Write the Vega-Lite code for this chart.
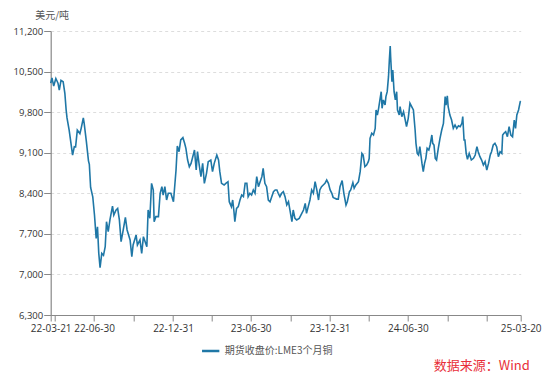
{
  "$schema": "https://vega.github.io/schema/vega-lite/v6.json",
  "width": 470,
  "height": 284,
  "autosize": {"type": "none"},
  "padding": {"left": 50.7, "top": 31, "right": 29.3, "bottom": 67},
  "background": "white",
  "config": {"font": "Noto Sans CJK SC", "view": {"stroke": null}},
  "title": {"text": "数据来源：Wind", "orient": "bottom", "anchor": "end", "frame": "group", "color": "#e8303a", "fontSize": 13, "fontWeight": "normal", "offset": 4, "dx": 9},
  "data": {"values": [
    {"d":"2022-03-21","v":10300},{"d":"2022-03-24","v":10390},{"d":"2022-03-28","v":10250},{"d":"2022-04-02","v":10380},{"d":"2022-04-07","v":10300},{"d":"2022-04-10","v":10180},{"d":"2022-04-14","v":10350},{"d":"2022-04-19","v":10325},{"d":"2022-04-23","v":10125},{"d":"2022-04-26","v":9837},{"d":"2022-04-28","v":9700},{"d":"2022-05-03","v":9490},{"d":"2022-05-11","v":9060},{"d":"2022-05-15","v":9204},{"d":"2022-05-18","v":9200},{"d":"2022-05-22","v":9490},{"d":"2022-05-28","v":9430},{"d":"2022-05-31","v":9520},{"d":"2022-06-05","v":9700},{"d":"2022-06-07","v":9607},{"d":"2022-06-12","v":9300},{"d":"2022-06-17","v":8960},{"d":"2022-06-19","v":8900},{"d":"2022-06-22","v":8500},{"d":"2022-06-27","v":8340},{"d":"2022-07-01","v":8025},{"d":"2022-07-05","v":7623},{"d":"2022-07-08","v":7823},{"d":"2022-07-11","v":7364},{"d":"2022-07-14","v":7117},{"d":"2022-07-18","v":7364},{"d":"2022-07-22","v":7330},{"d":"2022-07-26","v":7478},{"d":"2022-07-29","v":7910},{"d":"2022-08-02","v":7737},{"d":"2022-08-06","v":7940},{"d":"2022-08-12","v":8180},{"d":"2022-08-15","v":8025},{"d":"2022-08-20","v":8110},{"d":"2022-08-24","v":8140},{"d":"2022-08-28","v":7940},{"d":"2022-09-01","v":7565},{"d":"2022-09-06","v":7767},{"d":"2022-09-11","v":7985},{"d":"2022-09-15","v":7767},{"d":"2022-09-22","v":7594},{"d":"2022-09-26","v":7306},{"d":"2022-09-29","v":7508},{"d":"2022-10-06","v":7680},{"d":"2022-10-09","v":7508},{"d":"2022-10-15","v":7594},{"d":"2022-10-19","v":7364},{"d":"2022-10-23","v":7652},{"d":"2022-10-27","v":7565},{"d":"2022-10-31","v":7478},{"d":"2022-11-03","v":8111},{"d":"2022-11-07","v":7968},{"d":"2022-11-11","v":8571},{"d":"2022-11-15","v":8456},{"d":"2022-11-17","v":7910},{"d":"2022-11-21","v":7997},{"d":"2022-11-27","v":7997},{"d":"2022-12-01","v":8400},{"d":"2022-12-05","v":8514},{"d":"2022-12-08","v":8370},{"d":"2022-12-12","v":8514},{"d":"2022-12-16","v":8284},{"d":"2022-12-20","v":8400},{"d":"2022-12-26","v":8400},{"d":"2023-01-01","v":8255},{"d":"2023-01-07","v":8802},{"d":"2023-01-10","v":9216},{"d":"2023-01-14","v":9118},{"d":"2023-01-18","v":9320},{"d":"2023-01-23","v":9360},{"d":"2023-01-27","v":9262},{"d":"2023-01-30","v":9176},{"d":"2023-02-03","v":8974},{"d":"2023-02-07","v":8859},{"d":"2023-02-11","v":8916},{"d":"2023-02-15","v":9031},{"d":"2023-02-19","v":9147},{"d":"2023-02-23","v":8802},{"d":"2023-02-26","v":9118},{"d":"2023-03-02","v":8888},{"d":"2023-03-06","v":8687},{"d":"2023-03-10","v":8916},{"d":"2023-03-14","v":8572},{"d":"2023-03-19","v":8744},{"d":"2023-03-23","v":8945},{"d":"2023-03-29","v":8974},{"d":"2023-04-02","v":8773},{"d":"2023-04-06","v":8916},{"d":"2023-04-12","v":9060},{"d":"2023-04-16","v":8974},{"d":"2023-04-19","v":8773},{"d":"2023-04-23","v":8572},{"d":"2023-04-29","v":8543},{"d":"2023-05-03","v":8572},{"d":"2023-05-08","v":8600},{"d":"2023-05-11","v":8255},{"d":"2023-05-16","v":8169},{"d":"2023-05-19","v":8284},{"d":"2023-05-22","v":8082},{"d":"2023-05-24","v":7910},{"d":"2023-05-28","v":8140},{"d":"2023-06-01","v":8169},{"d":"2023-06-05","v":8284},{"d":"2023-06-09","v":8370},{"d":"2023-06-13","v":8342},{"d":"2023-06-17","v":8572},{"d":"2023-06-21","v":8572},{"d":"2023-06-24","v":8342},{"d":"2023-06-28","v":8400},{"d":"2023-07-02","v":8370},{"d":"2023-07-06","v":8457},{"d":"2023-07-10","v":8400},{"d":"2023-07-14","v":8687},{"d":"2023-07-18","v":8514},{"d":"2023-07-22","v":8600},{"d":"2023-07-26","v":8687},{"d":"2023-07-29","v":8831},{"d":"2023-08-02","v":8572},{"d":"2023-08-06","v":8514},{"d":"2023-08-10","v":8284},{"d":"2023-08-14","v":8255},{"d":"2023-08-18","v":8342},{"d":"2023-08-22","v":8428},{"d":"2023-08-26","v":8457},{"d":"2023-08-30","v":8457},{"d":"2023-09-02","v":8400},{"d":"2023-09-06","v":8342},{"d":"2023-09-10","v":8400},{"d":"2023-09-14","v":8428},{"d":"2023-09-18","v":8342},{"d":"2023-09-22","v":8198},{"d":"2023-09-26","v":8255},{"d":"2023-09-30","v":8082},{"d":"2023-10-04","v":7910},{"d":"2023-10-07","v":8111},{"d":"2023-10-11","v":7968},{"d":"2023-10-15","v":7940},{"d":"2023-10-21","v":7968},{"d":"2023-10-27","v":8054},{"d":"2023-10-31","v":8111},{"d":"2023-11-04","v":8226},{"d":"2023-11-07","v":8054},{"d":"2023-11-11","v":8169},{"d":"2023-11-15","v":8284},{"d":"2023-11-19","v":8457},{"d":"2023-11-23","v":8400},{"d":"2023-11-27","v":8600},{"d":"2023-12-01","v":8457},{"d":"2023-12-05","v":8284},{"d":"2023-12-08","v":8457},{"d":"2023-12-12","v":8514},{"d":"2023-12-16","v":8543},{"d":"2023-12-20","v":8572},{"d":"2023-12-24","v":8629},{"d":"2023-12-28","v":8572},{"d":"2024-01-01","v":8457},{"d":"2024-01-05","v":8400},{"d":"2024-01-08","v":8330},{"d":"2024-01-12","v":8313},{"d":"2024-01-16","v":8300},{"d":"2024-01-20","v":8300},{"d":"2024-01-24","v":8514},{"d":"2024-01-29","v":8620},{"d":"2024-02-02","v":8400},{"d":"2024-02-07","v":8198},{"d":"2024-02-10","v":8255},{"d":"2024-02-15","v":8428},{"d":"2024-02-18","v":8457},{"d":"2024-02-23","v":8583},{"d":"2024-02-26","v":8486},{"d":"2024-03-01","v":8543},{"d":"2024-03-07","v":8600},{"d":"2024-03-11","v":8773},{"d":"2024-03-15","v":9089},{"d":"2024-03-18","v":9060},{"d":"2024-03-22","v":8859},{"d":"2024-03-26","v":8888},{"d":"2024-03-30","v":8945},{"d":"2024-04-01","v":9000},{"d":"2024-04-03","v":9348},{"d":"2024-04-07","v":9435},{"d":"2024-04-11","v":9406},{"d":"2024-04-15","v":9520},{"d":"2024-04-17","v":9837},{"d":"2024-04-20","v":9750},{"d":"2024-04-23","v":9866},{"d":"2024-04-26","v":10010},{"d":"2024-04-29","v":10153},{"d":"2024-05-01","v":9866},{"d":"2024-05-04","v":10010},{"d":"2024-05-08","v":9923},{"d":"2024-05-10","v":10067},{"d":"2024-05-13","v":10153},{"d":"2024-05-16","v":10412},{"d":"2024-05-18","v":10700},{"d":"2024-05-20","v":10941},{"d":"2024-05-21","v":10757},{"d":"2024-05-24","v":10326},{"d":"2024-05-26","v":10527},{"d":"2024-05-29","v":10153},{"d":"2024-06-01","v":10010},{"d":"2024-06-04","v":10153},{"d":"2024-06-06","v":9837},{"d":"2024-06-10","v":9750},{"d":"2024-06-12","v":9894},{"d":"2024-06-16","v":9722},{"d":"2024-06-20","v":9808},{"d":"2024-06-24","v":9664},{"d":"2024-06-27","v":9549},{"d":"2024-07-01","v":9693},{"d":"2024-07-05","v":9952},{"d":"2024-07-09","v":9894},{"d":"2024-07-13","v":9837},{"d":"2024-07-17","v":9492},{"d":"2024-07-19","v":9262},{"d":"2024-07-22","v":9089},{"d":"2024-07-25","v":9060},{"d":"2024-07-28","v":9204},{"d":"2024-07-31","v":9031},{"d":"2024-08-02","v":8916},{"d":"2024-08-05","v":8773},{"d":"2024-08-08","v":8916},{"d":"2024-08-11","v":9003},{"d":"2024-08-14","v":9176},{"d":"2024-08-18","v":9147},{"d":"2024-08-21","v":9233},{"d":"2024-08-25","v":9406},{"d":"2024-08-27","v":9262},{"d":"2024-08-30","v":9233},{"d":"2024-09-02","v":9003},{"d":"2024-09-05","v":8974},{"d":"2024-09-09","v":9176},{"d":"2024-09-13","v":9348},{"d":"2024-09-17","v":9492},{"d":"2024-09-21","v":9607},{"d":"2024-09-25","v":10067},{"d":"2024-09-27","v":9923},{"d":"2024-09-30","v":10081},{"d":"2024-10-02","v":9894},{"d":"2024-10-06","v":9750},{"d":"2024-10-10","v":9664},{"d":"2024-10-14","v":9520},{"d":"2024-10-18","v":9578},{"d":"2024-10-22","v":9520},{"d":"2024-10-26","v":9564},{"d":"2024-10-30","v":9549},{"d":"2024-11-03","v":9607},{"d":"2024-11-05","v":9722},{"d":"2024-11-08","v":9320},{"d":"2024-11-10","v":9320},{"d":"2024-11-13","v":9089},{"d":"2024-11-16","v":8988},{"d":"2024-11-20","v":9089},{"d":"2024-11-25","v":8974},{"d":"2024-11-30","v":9003},{"d":"2024-12-04","v":9060},{"d":"2024-12-08","v":9204},{"d":"2024-12-11","v":9118},{"d":"2024-12-15","v":9031},{"d":"2024-12-19","v":8974},{"d":"2024-12-23","v":8888},{"d":"2024-12-27","v":8945},{"d":"2024-12-31","v":8802},{"d":"2025-01-04","v":8916},{"d":"2025-01-08","v":9060},{"d":"2025-01-11","v":9118},{"d":"2025-01-15","v":9233},{"d":"2025-01-19","v":9262},{"d":"2025-01-23","v":9204},{"d":"2025-01-27","v":9031},{"d":"2025-01-31","v":9118},{"d":"2025-02-04","v":9089},{"d":"2025-02-06","v":9406},{"d":"2025-02-09","v":9435},{"d":"2025-02-13","v":9464},{"d":"2025-02-17","v":9377},{"d":"2025-02-21","v":9549},{"d":"2025-02-25","v":9406},{"d":"2025-03-01","v":9377},{"d":"2025-03-05","v":9664},{"d":"2025-03-08","v":9520},{"d":"2025-03-11","v":9750},{"d":"2025-03-15","v":9837},{"d":"2025-03-19","v":9981},{"d":"2025-03-20","v":9990}
  ]},
  "mark": {"type": "line", "strokeWidth": 1.6, "interpolate": "linear"},
  "encoding": {
    "x": {
      "field": "d", "type": "temporal",
      "scale": {"type": "utc", "nice": false, "domain": [{"year": 2022, "month": 3, "date": 21, "utc": true}, {"year": 2025, "month": 3, "date": 20, "utc": true}]},
      "axis": {
        "title": null, "grid": false,
        "values": [
          {"year": 2022, "month": 3, "date": 21, "utc": true},
          {"year": 2022, "month": 3, "date": 31, "utc": true},
          {"year": 2022, "month": 6, "date": 30, "utc": true},
          {"year": 2022, "month": 9, "date": 30, "utc": true},
          {"year": 2022, "month": 12, "date": 31, "utc": true},
          {"year": 2023, "month": 3, "date": 31, "utc": true},
          {"year": 2023, "month": 6, "date": 30, "utc": true},
          {"year": 2023, "month": 9, "date": 30, "utc": true},
          {"year": 2023, "month": 12, "date": 31, "utc": true},
          {"year": 2024, "month": 3, "date": 31, "utc": true},
          {"year": 2024, "month": 6, "date": 30, "utc": true},
          {"year": 2024, "month": 9, "date": 30, "utc": true},
          {"year": 2024, "month": 12, "date": 31, "utc": true},
          {"year": 2025, "month": 3, "date": 20, "utc": true}
        ],
        "labelExpr": "indexof(['22-03-21','22-06-30','22-12-31','23-06-30','23-12-31','24-06-30','25-03-20'], utcFormat(datum.value,'%y-%m-%d')) >= 0 ? utcFormat(datum.value,'%y-%m-%d') : ''",
        "labelOverlap": false, "labelFlush": false,
        "labelFont": "Open Sans", "labelFontSize": 10, "labelColor": "#333333", "labelPadding": 2,
        "domainColor": "#888888", "domainWidth": 1.2, "tickColor": "#888888", "tickSize": 6
      }
    },
    "y": {
      "field": "v", "type": "quantitative",
      "scale": {"domain": [6300, 11200], "nice": false, "zero": false},
      "axis": {
        "values": [6300, 7000, 7700, 8400, 9100, 9800, 10500, 11200],
        "format": ",.0f",
        "grid": true, "gridDash": [3, 3], "gridColor": "#dddddd",
        "domainColor": "#888888", "domainWidth": 1.2, "tickColor": "#888888", "tickSize": 7,
        "labelFont": "Open Sans", "labelFontSize": 9.5, "labelColor": "#333333", "labelPadding": 1,
        "title": "美元/吨", "titleAngle": 0, "titleAlign": "left", "titleBaseline": "middle",
        "titleX": -16, "titleY": -16, "titleFontSize": 10, "titleColor": "#555555", "titleFontWeight": "normal"
      }
    },
    "color": {
      "datum": "期货收盘价:LME3个月铜",
      "scale": {"range": ["#1f77a6"]},
      "legend": {
        "title": null, "orient": "none", "legendX": 150, "legendY": 310,
        "symbolType": "stroke", "symbolStrokeWidth": 2.5, "symbolSize": 300,
        "labelFontSize": 10, "labelColor": "#555555"
      }
    }
  }
}
